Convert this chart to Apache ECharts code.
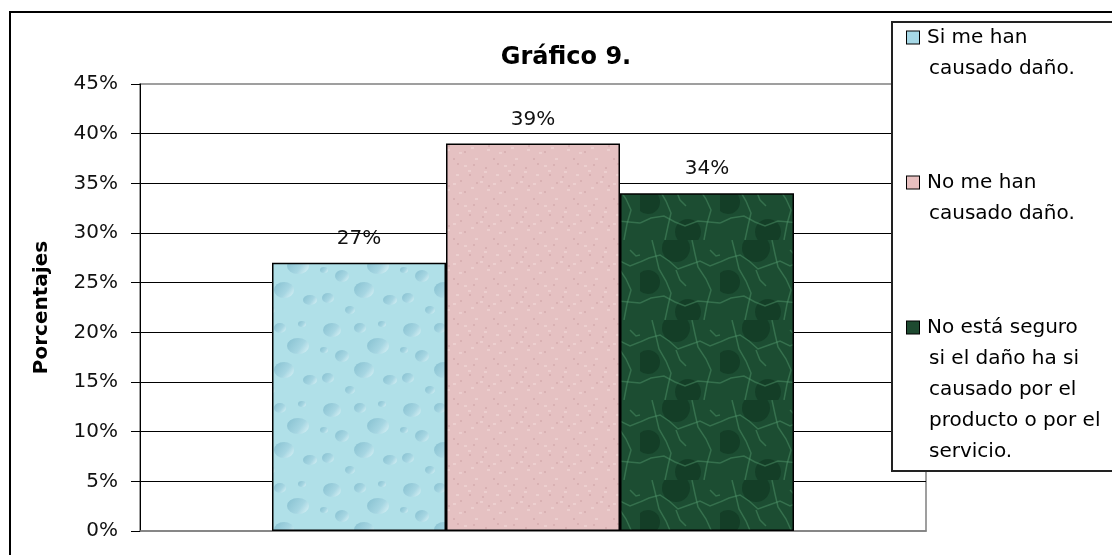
<!DOCTYPE html>
<html>
<head>
<meta charset="utf-8">
<script src="https://cdn.jsdelivr.net/npm/echarts@6/dist/echarts.min.js"></script>
<style>
  html, body { margin: 0; padding: 0; background: #fff; overflow: hidden; }
  #chart { width: 1112px; height: 555px; }
</style>
</head>
<body>
<div id="chart"></div>
<script>
// ---- data ----
const categories = [''];
const seriesNames = [
  'Si me han causado daño.',
  'No me han causado daño.',
  'No está seguro si el daño ha si causado por el producto o por el servicio.'
];
const seriesValues = [27, 39, 34];
const legendLines = [
  ['Si me han', 'causado daño.'],
  ['No me han', 'causado daño.'],
  ['No está seguro', 'si el daño ha si', 'causado por el', 'producto o por el', 'servicio.']
];
const titleText = 'Gráfico 9.';
const yAxisName = 'Porcentajes';
const yMin = 0, yMax = 45, yStep = 5;

// ---- styles ----
const iconColors = ['#a6d8e6', '#e8c0c0', '#1e4a30'];
const FONT = 'DejaVu Sans';

// textures (decorative fills only)
function makeTile(w, h, base, draw) {
  const c = document.createElement('canvas');
  c.width = w; c.height = h;
  const ctx = c.getContext('2d');
  ctx.fillStyle = base;
  ctx.fillRect(0, 0, w, h);
  draw(ctx);
  return c;
}
const drops = [[12,10,9,7],[40,8,6,5],[58,26,11,8],[22,36,7,6],[8,58,6,5],[44,50,10,8],[70,60,7,5],[30,70,5,4],[62,4,4,3],[4,30,4,3]];
const waterTile = makeTile(80, 80, '#b0e0e8', ctx => {
  drops.forEach(([x, y, rx, ry]) => {
    const g = ctx.createLinearGradient(x - rx, y - ry, x + rx, y + ry);
    g.addColorStop(0, '#86c0d0');
    g.addColorStop(0.6, '#a6d6e2');
    g.addColorStop(1, '#def4f7');
    ctx.fillStyle = g;
    ctx.beginPath(); ctx.ellipse(x, y, rx, ry, 0, 0, Math.PI * 2); ctx.fill();
  });
});
const spots = [[5,7],[17,3],[29,14],[8,25],[24,31],[36,22],[13,38],[33,4],[2,16],[20,20]];
const pinkTile = makeTile(40, 40, '#e5c1c2', ctx => {
  ctx.fillStyle = '#d9b1b3';
  spots.forEach(([x, y]) => ctx.fillRect(x, y, 2, 2));
  ctx.fillStyle = '#eccfcf';
  spots.forEach(([x, y]) => ctx.fillRect((x + 11) % 40, (y + 7) % 40, 3, 2));
});
const veins = [
  [[0,22],[9,18],[20,15],[29,21],[38,29],[49,25],[60,21],[70,26],[80,22]],
  [[12,0],[15,12],[19,29],[26,41],[31,53],[28,66],[25,80]],
  [[52,0],[55,14],[58,27],[66,39],[71,50],[67,64],[64,80]],
  [[0,63],[11,58],[24,56],[35,62],[45,66],[58,61],[80,63]],
  [[36,30],[40,40],[46,46]],
  [[70,10],[76,16],[80,15]]
];
const marbleTile = makeTile(80, 80, '#1c4d32', ctx => {
  ctx.fillStyle = 'rgba(12,45,26,0.45)';
  [[36,8,14],[8,42,12],[48,72,13]].forEach(([x, y, r]) => {
    ctx.beginPath(); ctx.arc(x, y, r, 0, Math.PI * 2); ctx.fill();
  });
  ctx.strokeStyle = 'rgba(85,155,110,0.45)';
  ctx.lineWidth = 1.5;
  veins.forEach(pts => {
    ctx.beginPath();
    pts.forEach(([x, y], k) => k ? ctx.lineTo(x, y) : ctx.moveTo(x, y));
    ctx.stroke();
  });
});
const barFills = [
  { image: waterTile, repeat: 'repeat' },
  { image: pinkTile, repeat: 'repeat' },
  { image: marbleTile, repeat: 'repeat' }
];

const chart = echarts.init(document.getElementById('chart'), null, { renderer: 'canvas' });

const rich = {
  s: { width: 14, height: 14 },
  t: { fontFamily: FONT, fontSize: 20, lineHeight: 31, color: '#000', padding: [0, 0, 0, 8] }
};
iconColors.forEach((c, i) => {
  rich['b' + i] = { width: 12, height: 12, backgroundColor: c, borderColor: '#000', borderWidth: 1 };
});

const series = seriesNames.map((name, i) => ({
  type: 'bar',
  name: name,
  data: [seriesValues[i]],
  barWidth: 174,
  barGap: '0%',
  itemStyle: { color: barFills[i], borderColor: '#000', borderWidth: 1.5 },
  label: {
    show: true,
    position: 'top',
    distance: 14,
    formatter: '{c}%',
    fontFamily: FONT,
    fontSize: 20,
    color: '#111'
  },
  emphasis: { disabled: true }
}));

chart.setOption({
  animation: false,
  backgroundColor: '#fff',
  title: {
    text: titleText,
    left: 566,
    top: 46,
    textAlign: 'center',
    padding: 0,
    textStyle: { fontFamily: FONT, fontSize: 24, fontWeight: 'bold', color: '#000' }
  },
  legend: {
    orient: 'vertical',
    left: 892,
    top: 22,
    padding: [0, 0, 4, 9],
    itemGap: 83,
    itemWidth: 0,
    itemHeight: 0,
    borderWidth: 0,
    selectedMode: false,
    z: 5,
    data: seriesNames,
    formatter: function (name) {
      const i = seriesNames.indexOf(name);
      return legendLines[i].map((ln, k) =>
        (k === 0 ? '{b' + i + '|}' : '{s|}') + '{t|' + ln + '}'
      ).join('\n');
    },
    textStyle: { rich: rich, fontFamily: FONT, fontSize: 20, lineHeight: 31 }
  },
  grid: {
    left: 140,
    right: 186,
    top: 84,
    bottom: 24,
    show: true,
    borderColor: '#808080',
    borderWidth: 1.5,
    backgroundColor: 'transparent'
  },
  xAxis: {
    type: 'category',
    data: categories,
    axisLine: { show: true, lineStyle: { color: '#808080', width: 1.5 } },
    axisTick: { show: false },
    axisLabel: { show: false },
    splitLine: { show: false }
  },
  yAxis: {
    type: 'value',
    min: yMin,
    max: yMax,
    interval: yStep,
    name: yAxisName,
    nameLocation: 'middle',
    nameRotate: 90,
    nameGap: 88,
    nameTextStyle: { fontFamily: FONT, fontSize: 20, fontWeight: 'bold', color: '#000' },
    axisLine: { show: true, lineStyle: { color: '#000', width: 1 } },
    axisTick: { show: true, length: 9, lineStyle: { color: '#000', width: 1 } },
    axisLabel: {
      margin: 22,
      fontFamily: FONT,
      fontSize: 20,
      color: '#111',
      formatter: v => v + '%'
    },
    splitLine: {
      show: true,
      showMinLine: false,
      showMaxLine: false,
      lineStyle: { color: '#000', width: 1 }
    }
  },
  graphic: [{
    type: 'polyline',
    shape: { points: [[10, 600], [10, 12], [1200, 12]] },
    style: { fill: 'none', stroke: '#000', lineWidth: 2 },
    silent: true,
    z: -1
  }, {
    type: 'rect',
    shape: { x: 892, y: 22, width: 300, height: 449 },
    style: { fill: '#fff', stroke: 'none' },
    silent: true,
    z: 4
  }, {
    type: 'polyline',
    shape: { points: [[1200, 22], [892, 22], [892, 471], [1200, 471]] },
    style: { fill: 'none', stroke: '#222', lineWidth: 2 },
    silent: true,
    z: 4
  }],
  series: series
});
</script>
</body>
</html>
